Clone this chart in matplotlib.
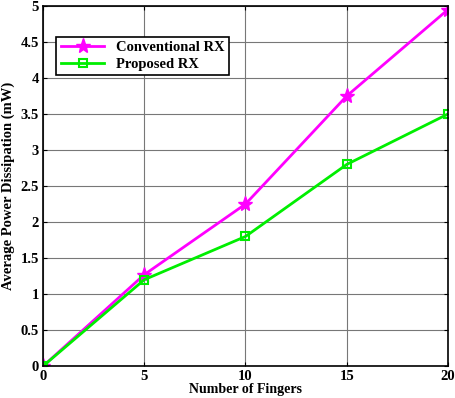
import numpy as np
import matplotlib
matplotlib.use('Agg')
import matplotlib.pyplot as plt

fingers = [0, 5, 10, 15, 20]
conventional_rx = [0, 1.27, 2.25, 3.75, 4.95]
proposed_rx = [0, 1.2, 1.8, 2.8, 3.5]

plt.rcParams['font.family'] = 'Liberation Serif'
plt.rcParams['font.weight'] = 'bold'

fig = plt.figure(figsize=(4.55, 3.98), dpi=100)
ax = fig.add_axes([0.0945, 0.080, 0.890, 0.905])

ax.plot(fingers, conventional_rx, color='#ff00ff', lw=2, marker='*', ms=11, label='Conventional RX')
ax.plot(fingers, proposed_rx, color='#00ee00', lw=2, marker='s', ms=6, mfc='none', mew=1.5, label='Proposed RX')

ax.set_xlim(0, 20)
ax.set_ylim(0, 5)
ax.set_xticks([0, 5, 10, 15, 20])
ax.set_yticks(np.arange(0, 5.01, 0.5))
ax.set_yticklabels(['0', '0.5', '1', '1.5', '2', '2.5', '3', '3.5', '4', '4.5', '5'])
ax.grid(True, color='#777777', lw=0.8)
ax.tick_params(direction='in', top=True, right=True, labelsize=10.5, length=3, pad=3)
for s in ax.spines.values():
    s.set_linewidth(1.2)

ax.set_xlabel('Number of Fingers', fontsize=10, fontweight='bold', labelpad=0)
ax.set_ylabel('Average Power Dissipation (mW)', fontsize=10.5, fontweight='bold', labelpad=4)

leg = ax.legend(loc='upper left', bbox_to_anchor=(0.015, 0.935), fontsize=10.5, fancybox=False,
                edgecolor='black', framealpha=1, handlelength=3.0, borderpad=0.3, labelspacing=0.25)
leg.get_frame().set_linewidth(1.2)

fig.savefig('out.png', dpi=100)
